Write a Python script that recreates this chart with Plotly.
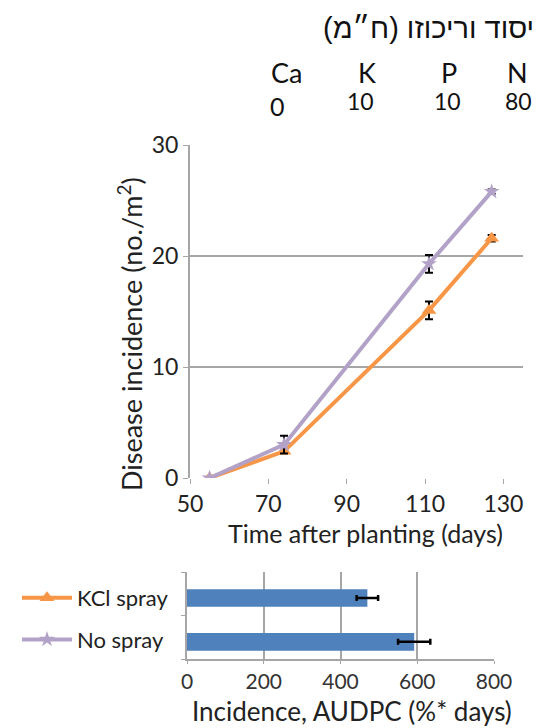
import plotly.graph_objects as go

# ---- data ----
days = [55, 74, 111, 127]
kcl_incidence = [0, 2.4, 15.1, 21.6]
kcl_err = [0, 0, 0.8, 0.3]
nospray_incidence = [0, 3.0, 19.3, 25.8]
nospray_err = [0, 0.8, 0.8, 0.2]

treatments = ["KCl spray", "No spray"]
audpc = [470, 592]
audpc_err = [28, 42]

x_ticks = [50, 70, 90, 110, 130]
y_ticks = [0, 10, 20, 30]
audpc_ticks = [0, 200, 400, 600, 800]

nutrients = ["Ca", "K", "P", "N"]
nutrient_values = ["0", "10", "10", "80"]
header = "יסוד וריכוזו (ח״מ)"
x_title = "Time after planting (days)"
y_title = "Disease incidence (no./m<sup>2</sup>)"
x2_title = "Incidence, AUDPC (%* days)"

# page is offset by the browser's default 8px body margin
OFF = 8
W, H = 543 - OFF, 728 - OFF
ORANGE = "#F79646"
LAVENDER = "#B3A2C7"
BLUE = "#4F81BD"
GRID = "#A6A6A6"
FONT = "Lato, Open Sans, sans-serif"
TXT = "#222222"

def px_x(p):
    return (p - OFF) / W

def px_y(p):
    return 1 - (p - OFF) / H

fig = go.Figure()

fig.add_trace(go.Scatter(
    x=days, y=kcl_incidence, name="KCl spray", mode="lines+markers",
    line=dict(color=ORANGE, width=4),
    marker=dict(symbol="triangle-up", size=13, color=ORANGE),
    error_y=dict(type="data", array=kcl_err, color="black", thickness=2, width=4),
    xaxis="x", yaxis="y", legendgroup="a",
))
fig.add_trace(go.Scatter(
    x=days, y=nospray_incidence, name="No spray", mode="lines+markers",
    line=dict(color=LAVENDER, width=4),
    marker=dict(symbol="star", size=12, color=LAVENDER),
    error_y=dict(type="data", array=nospray_err, color="black", thickness=2, width=4),
    xaxis="x", yaxis="y", legendgroup="b",
))
fig.add_trace(go.Bar(
    x=audpc, y=treatments, orientation="h", marker=dict(color=BLUE, line=dict(width=0)),
    width=0.4,
    error_x=dict(type="data", array=audpc_err, color="black", thickness=2.5, width=3),
    xaxis="x2", yaxis="y2", showlegend=False,
))

tick_font = dict(family=FONT, size=23, color=TXT)

fig.update_layout(
    width=W, height=H,
    margin=dict(l=0, r=0, t=0, b=0, autoexpand=False),
    paper_bgcolor="white", plot_bgcolor="white",
    font=dict(family=FONT, color=TXT),
    xaxis=dict(
        domain=[px_x(190), px_x(523)], range=[50, 135], anchor="y",
        tickvals=x_ticks, tickfont=tick_font, showgrid=False,
        ticks="outside", ticklen=5, tickcolor=GRID, ticklabelstandoff=0,
        showline=False, zeroline=False, automargin=False,
    ),
    yaxis=dict(
        domain=[px_y(478), px_y(145)], range=[0, 30], anchor="x",
        tickvals=y_ticks, tickfont=tick_font,
        showgrid=True, gridcolor=GRID, gridwidth=2,
        ticks="outside", ticklen=5, tickcolor=GRID,
        showline=True, linecolor=GRID, linewidth=2, zeroline=False, automargin=False,
    ),
    xaxis2=dict(
        domain=[px_x(187), px_x(494)], range=[0, 800], anchor="y2",
        tickvals=audpc_ticks, tickfont=dict(family=FONT, size=21, color="#333333"),
        ticks="outside", ticklen=3, tickcolor=GRID, ticklabelstandoff=0,
        showgrid=True, gridcolor=GRID, gridwidth=2,
        showline=True, linecolor=GRID, linewidth=2, zeroline=False, automargin=False,
    ),
    yaxis2=dict(
        domain=[px_y(659), px_y(572)], anchor="x2",
        categoryorder="array", categoryarray=treatments,
        autorange=False, range=[1.39, -0.59],
        tickvals=[-0.59, 0.4, 1.39], ticks="outside", ticklen=4, tickcolor=GRID,
        showticklabels=False, showgrid=False, automargin=False,
        showline=True, linecolor=GRID, linewidth=2, zeroline=False,
    ),
    showlegend=True,
    legend=dict(
        x=px_x(17), y=px_y(577), xanchor="left", yanchor="top",
        font=dict(family=FONT, size=22, color=TXT),
        itemwidth=50, tracegroupgap=10, bgcolor="rgba(0,0,0,0)",
    ),
)

def note(text, x, y, size, family=FONT, xanchor="center", angle=0, color=TXT):
    fig.add_annotation(text=text, x=px_x(x), y=px_y(y), xref="paper", yref="paper",
                       xanchor=xanchor, yanchor="middle", showarrow=False, textangle=angle,
                       font=dict(family=family, size=size, color=color))

# axis titles
note(x_title, 365, 533, 25)
note(y_title, 130, 334, 27, angle=-90)
note(x2_title, 352, 711, 26)

# header texts
note(header, 536, 28, 29, family="Liberation Sans, DejaVu Sans, sans-serif",
     xanchor="right", color="#111111")
name_x = [286, 367, 449, 517]
val_x = [278, 360, 447, 518]
for nx, vx, name, val in zip(name_x, val_x, nutrients, nutrient_values):
    note(name, nx, 72, 27, color="#111111")
    note(val, vx, 101 if val != "0" else 106, 23 if val != "0" else 25, color="#111111")

fig.write_html("out.html")
